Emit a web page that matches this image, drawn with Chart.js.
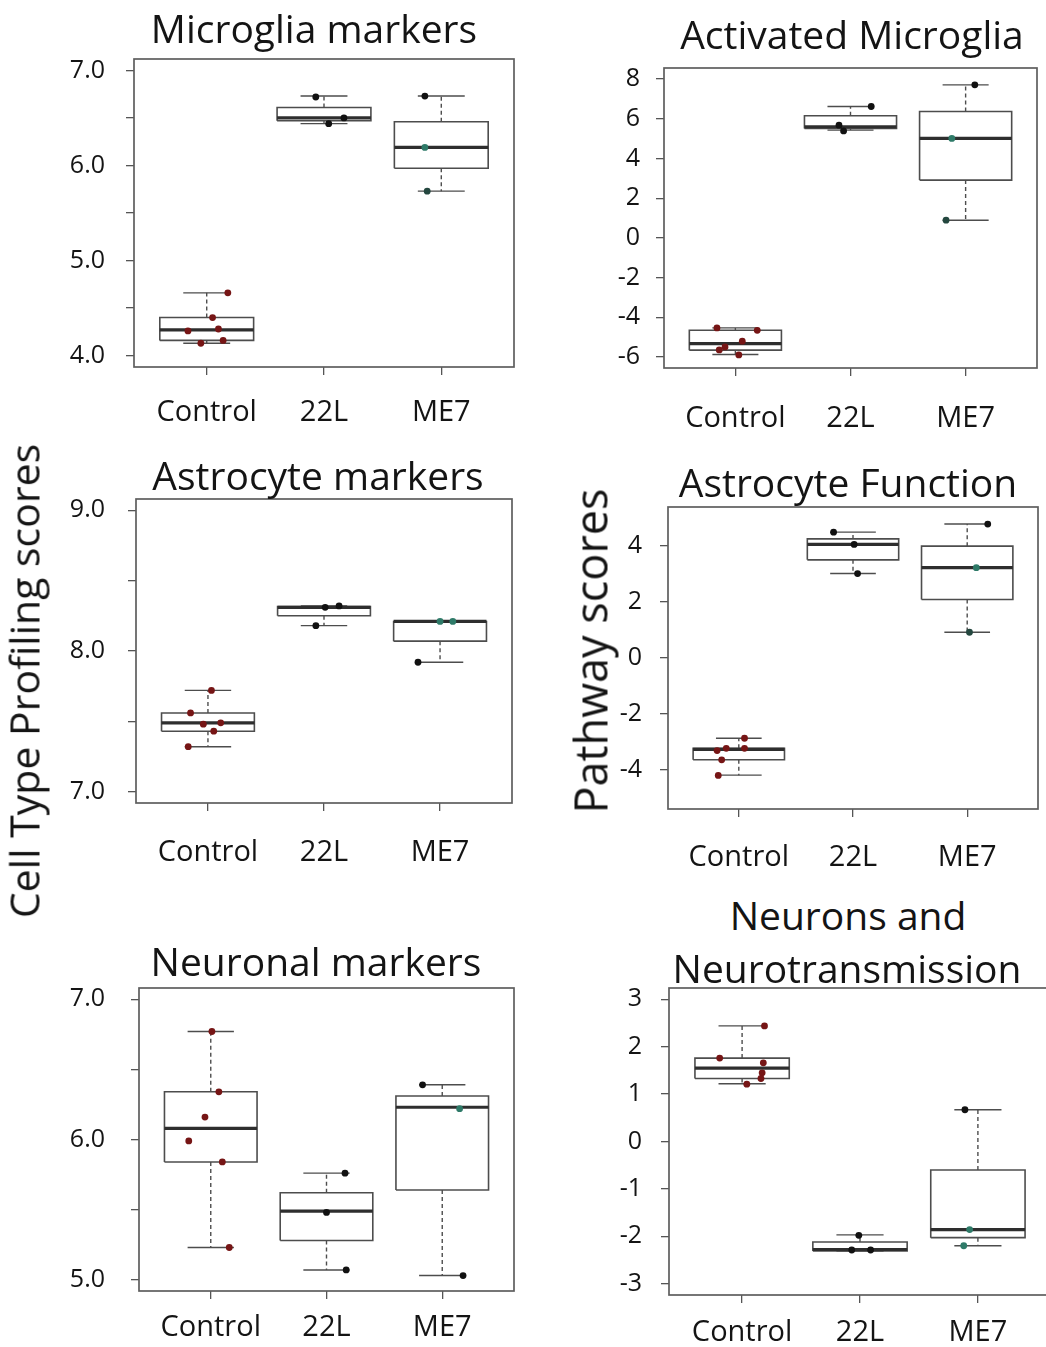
<!DOCTYPE html>
<html>
<head>
<meta charset="utf-8">
<script src="https://cdn.jsdelivr.net/npm/chart.js@4.4.1/dist/chart.umd.min.js"></script>
<style>
  body { margin: 0; background: #fff; width: 1046px; height: 1347px; overflow: hidden; position: relative;
         font-family: "Open Sans", sans-serif; color: #141414; }
  canvas { position: absolute; }
  .title { position: absolute; transform: translate(-50%, -50%); line-height: 1; white-space: nowrap; font-size: 39px; }
  .ylab { position: absolute; transform: translate(-50%, -50%) rotate(-90deg); line-height: 1; white-space: nowrap; }
</style>
</head>
<body>
<script>
const groups = ['Control', '22L', 'ME7'];

// box stats per group: [min, q1, median, q3, max]
// Microglia markers
const mgStats = [[4.13, 4.16, 4.27, 4.40, 4.66], [6.44, 6.47, 6.50, 6.61, 6.73], [5.73, 5.97, 6.19, 6.46, 6.73]];
const mgPoints = [[4.66, 4.40, 4.26, 4.28, 4.16, 4.13], [6.72, 6.50, 6.44], [6.73, 6.19, 5.73]];
const mgJitter = [[0.18, 0.05, -0.16, 0.10, 0.14, -0.05], [-0.07, 0.17, 0.04], [-0.14, -0.14, -0.12]];
const mgTicks = [4, 4.5, 5, 5.5, 6, 6.5, 7];
const mgLim = [4, 7];

// Activated Microglia
const amStats = [[-5.88, -5.66, -5.33, -4.66, -4.54], [5.43, 5.51, 5.60, 6.15, 6.62], [0.89, 2.91, 5.01, 6.37, 7.71]];
const amPoints = [[-4.54, -4.66, -5.21, -5.50, -5.65, -5.90], [6.62, 5.68, 5.39], [7.71, 5.01, 0.89]];
const amJitter = [[-0.16, 0.19, 0.06, -0.09, -0.14, 0.03], [0.18, -0.10, -0.06], [0.08, -0.12, -0.17]];
const amTicks = [-6, -4, -2, 0, 2, 4, 6, 8];
const amLim = [-6, 8];

// Astrocyte markers
const asStats = [[7.32, 7.43, 7.49, 7.56, 7.72], [8.18, 8.25, 8.31, 8.315, 8.32], [7.92, 8.07, 8.21, 8.21, 8.21]];
const asPoints = [[7.72, 7.56, 7.48, 7.49, 7.43, 7.32], [8.31, 8.32, 8.18], [8.21, 8.21, 7.92]];
const asJitter = [[0.03, -0.15, -0.04, 0.11, 0.05, -0.17], [0.01, 0.13, -0.07], [0.0, 0.11, -0.19]];
const asTicks = [7, 7.5, 8, 8.5, 9];
const asLim = [7, 9];

// Astrocyte Function
const afStats = [[-4.19, -3.64, -3.27, -3.23, -2.87], [3.02, 3.51, 4.06, 4.26, 4.50], [0.92, 2.09, 3.23, 4.00, 4.79]];
const afPoints = [[-2.87, -3.23, -3.23, -3.31, -3.64, -4.20], [4.50, 4.06, 3.02], [4.79, 3.23, 0.92]];
const afJitter = [[0.05, -0.11, 0.05, -0.19, -0.15, -0.18], [-0.17, 0.01, 0.04], [0.18, 0.08, 0.02]];
const afTicks = [-4, -2, 0, 2, 4];
const afLim = [-5, 5];

// Neuronal markers
const nmStats = [[5.23, 5.84, 6.08, 6.34, 6.77], [5.07, 5.28, 5.49, 5.62, 5.76], [5.03, 5.64, 6.23, 6.31, 6.39]];
const nmPoints = [[6.77, 6.34, 6.16, 5.99, 5.84, 5.23], [5.76, 5.48, 5.07], [6.39, 6.22, 5.03]];
const nmJitter = [[0.01, 0.07, -0.05, -0.19, 0.10, 0.16], [0.16, 0.0, 0.17], [-0.17, 0.15, 0.18]];
const nmTicks = [5, 5.5, 6, 6.5, 7];
const nmLim = [5, 7];

// Neurons and Neurotransmission
const ntStats = [[1.22, 1.33, 1.55, 1.76, 2.44], [-2.31, -2.31, -2.28, -2.12, -1.97], [-2.20, -2.03, -1.86, -0.60, 0.67]];
const ntPoints = [[2.44, 1.76, 1.66, 1.45, 1.33, 1.21], [-1.98, -2.29, -2.29], [0.67, -1.86, -2.20]];
const ntJitter = [[0.19, -0.19, 0.18, 0.17, 0.16, 0.04], [-0.01, -0.07, 0.09], [-0.11, -0.07, -0.12]];
const ntTicks = [-3, -2, -1, 0, 1, 2, 3];
const ntLim = [-3, 3];

// point colours
const ctrlColor = '#761515';
const l22Color = '#111111';
const black = '#111111', teal = '#2e7a68', darkTeal = '#24473f';
const mgMe7Col = [black, teal, darkTeal];
const amMe7Col = [black, teal, darkTeal];
const asMe7Col = [teal, teal, black];
const afMe7Col = [black, teal, darkTeal];
const nmMe7Col = [black, teal, black];
const ntMe7Col = [black, teal, teal];

const panels = [
  { title: ['Microglia markers'], tpos: [[314, 27]], stats: mgStats, pts: mgPoints, jit: mgJitter, ticks: mgTicks, lim: mgLim, me7: mgMe7Col, dec: 1,
    area: [134, 59, 514, 367], xpad: 20, ypad: 21 },
  { title: ['Activated Microglia'], tpos: [[852, 33]], stats: amStats, pts: amPoints, jit: amJitter, ticks: amTicks, lim: amLim, me7: amMe7Col, dec: 0,
    area: [664, 68, 1037, 368], xpad: 25, ypad: 16 },
  { title: ['Astrocyte markers'], tpos: [[318, 474]], stats: asStats, pts: asPoints, jit: asJitter, ticks: asTicks, lim: asLim, me7: asMe7Col, dec: 1,
    area: [136, 499, 512, 803], xpad: 24, ypad: 23 },
  { title: ['Astrocyte Function'], tpos: [[848, 481]], stats: afStats, pts: afPoints, jit: afJitter, ticks: afTicks, lim: afLim, me7: afMe7Col, dec: 0,
    area: [668, 507, 1038, 809], xpad: 23, ypad: 18 },
  { title: ['Neuronal markers'], tpos: [[316, 960]], stats: nmStats, pts: nmPoints, jit: nmJitter, ticks: nmTicks, lim: nmLim, me7: nmMe7Col, dec: 1,
    area: [139, 987, 514, 1291], xpad: 11, ypad: 26 },
  { title: ['Neurons and', 'Neurotransmission'], tpos: [[848, 914], [847, 967]], stats: ntStats, pts: ntPoints, jit: ntJitter, ticks: ntTicks, lim: ntLim, me7: ntMe7Col, dec: 0,
    area: [669, 988, 1051, 1295], xpad: 12, ypad: 19 }
];

const lineCol = '#4d4d4d';
const frame = {
  id: 'frame',
  afterDraw(chart) {
    const a = chart.chartArea, ctx = chart.ctx;
    ctx.save();
    ctx.strokeStyle = '#5e5e5e';
    ctx.lineWidth = 1.7;
    ctx.strokeRect(a.left, a.top, a.right - a.left, a.bottom - a.top);
    ctx.restore();
  }
};

function seg(data, opts) {
  return Object.assign({ data, showLine: true, pointRadius: 0, borderColor: lineCol, borderWidth: 1.6, tension: 0, fill: false }, opts);
}

function buildDatasets(p) {
  const pointData = [], pointColors = [];
  p.pts.forEach((vals, g) => {
    vals.forEach((v, i) => {
      pointData.push({ x: g + 1 + p.jit[g][i], y: v });
      pointColors.push(g === 0 ? ctrlColor : g === 1 ? l22Color : p.me7[i]);
    });
  });
  const sets = [{ data: pointData, pointRadius: 3.4, pointBackgroundColor: pointColors, pointBorderWidth: 0, showLine: false }];
  const medians = [], boxes = [], whisk = [];
  p.stats.forEach((s, g) => {
    const c = g + 1, hw = 0.4, sw = 0.2;
    const [mn, q1, md, q3, mx] = s;
    medians.push(seg([{ x: c - hw, y: md }, { x: c + hw, y: md }], { borderColor: '#2e2e2e', borderWidth: 3.2 }));
    boxes.push(seg([{ x: c - hw, y: q1 }, { x: c + hw, y: q1 }, { x: c + hw, y: q3 }, { x: c - hw, y: q3 }, { x: c - hw, y: q1 }], {}));
    whisk.push(seg([{ x: c, y: q3 }, { x: c, y: mx }], { borderDash: [4, 3], borderWidth: 1.4 }));
    whisk.push(seg([{ x: c, y: q1 }, { x: c, y: mn }], { borderDash: [4, 3], borderWidth: 1.4 }));
    whisk.push(seg([{ x: c - sw, y: mx }, { x: c + sw, y: mx }], { borderWidth: 1.4 }));
    whisk.push(seg([{ x: c - sw, y: mn }, { x: c + sw, y: mn }], { borderWidth: 1.4 }));
  });
  return sets.concat(medians, boxes, whisk);
}

const YW = 110, XH = 75, PT = 40, PR = 10;

panels.forEach(p => {
  const [L, T, R, B] = p.area;
  const cv = document.createElement('canvas');
  cv.width = (R - L) + YW + PR;
  cv.height = (B - T) + PT + XH;
  cv.style.left = (L - YW) + 'px';
  cv.style.top = (T - PT) + 'px';
  document.body.appendChild(cv);

  const ext = (p.lim[1] - p.lim[0]) * 0.04;
  new Chart(cv.getContext('2d'), {
    type: 'scatter',
    data: { datasets: buildDatasets(p) },
    options: {
      responsive: false,
      animation: false,
      events: [],
      layout: { padding: { top: PT, right: PR, left: 0, bottom: 0 } },
      plugins: { legend: { display: false }, tooltip: { enabled: false }, title: { display: false } },
      scales: {
        x: {
          type: 'linear', min: 0.38, max: 3.62,
          afterFit: s => { s.height = XH; },
          afterBuildTicks: s => { s.ticks = groups.map((g, i) => ({ value: i + 1 })); },
          border: { display: false },
          grid: { drawOnChartArea: false, drawTicks: true, tickLength: 8, color: '#555', lineWidth: 1.3 },
          ticks: { autoSkip: false, maxRotation: 0, minRotation: 0, padding: p.xpad, color: '#141414',
                   font: { family: 'Open Sans', size: 29 }, callback: v => groups[v - 1] }
        },
        y: {
          min: p.lim[0] - ext, max: p.lim[1] + ext,
          afterFit: s => { s.width = YW; },
          afterBuildTicks: s => { s.ticks = p.ticks.map(v => ({ value: v })); },
          border: { display: false },
          grid: { drawOnChartArea: false, drawTicks: true, tickLength: 8, color: '#555', lineWidth: 1.3 },
          ticks: { autoSkip: false, padding: p.ypad, color: '#141414', font: { family: 'Open Sans', size: 25 },
                   callback: v => (Number.isInteger(v) ? v.toFixed(p.dec) : '') }
        }
      }
    },
    plugins: [frame]
  });

  p.title.forEach((t, i) => {
    const d = document.createElement('div');
    d.className = 'title';
    d.textContent = t;
    d.style.left = p.tpos[i][0] + 'px';
    d.style.top = p.tpos[i][1] + 'px';
    document.body.appendChild(d);
  });
});

[['Cell Type Profiling scores', 23.5, 681, 41], ['Pathway scores', 590, 651, 45]].forEach(([t, x, y, fs]) => {
  const d = document.createElement('div');
  d.className = 'ylab';
  d.textContent = t;
  d.style.left = x + 'px';
  d.style.top = y + 'px';
  d.style.fontSize = fs + 'px';
  document.body.appendChild(d);
});
</script>
</body>
</html>
